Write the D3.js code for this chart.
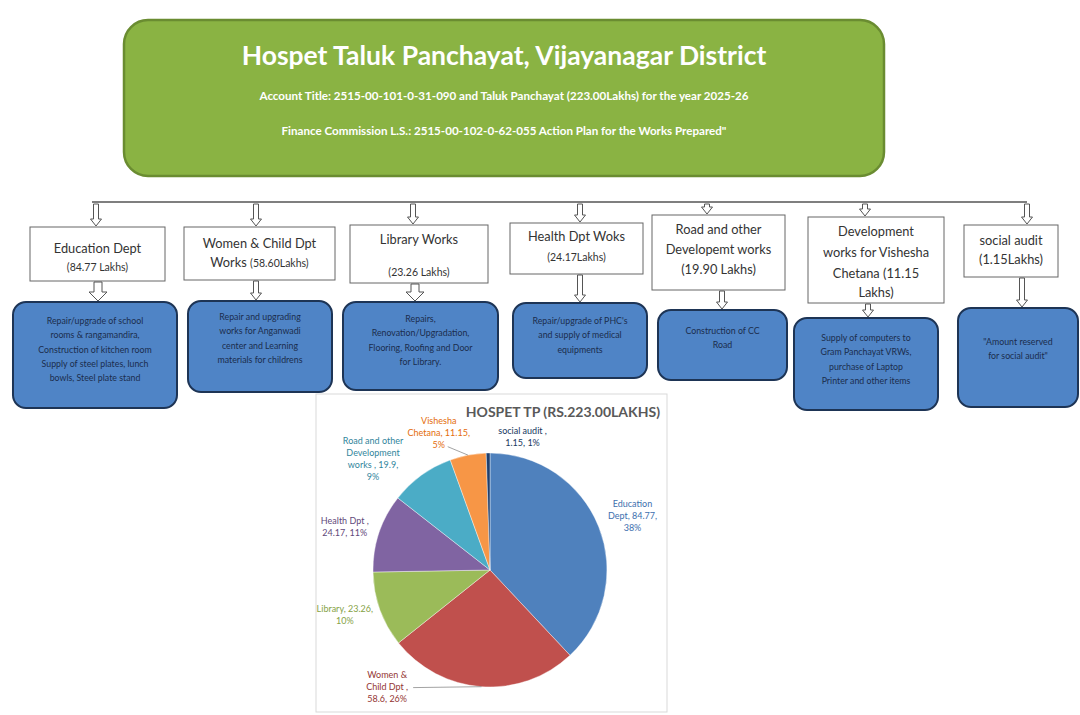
<!DOCTYPE html>
<html>
<head>
<meta charset="utf-8">
<title>Hospet Taluk Panchayat</title>
<script src="https://d3js.org/d3.v7.min.js"></script>
<style>
  body { margin: 0; background: #fff; }
  svg { display: block; font-family: Lato, "Open Sans", sans-serif; }
</style>
</head>
<body>
<div id="chart"></div>
<script>
// ---- data ----
var mainTitle = "Hospet Taluk Panchayat, Vijayanagar District";
var subTitles = [
  "Account Title: 2515-00-101-0-31-090 and Taluk Panchayat (223.00Lakhs) for the year 2025-26",
  "Finance Commission L.S.: 2515-00-102-0-62-055 Action Plan for the Works Prepared\""
];

// white department boxes, one array of lines each
var deptLines = [
  ["Education Dept", "(84.77 Lakhs)"],
  ["Women & Child Dpt", "Works (58.60Lakhs)"],
  ["Library Works", "", "(23.26 Lakhs)"],
  ["Health Dpt Woks", "(24.17Lakhs)"],
  ["Road and other", "Developemt works", "(19.90 Lakhs)"],
  ["Development", "works for Vishesha", "Chetana (11.15", "Lakhs)"],
  ["social audit", "(1.15Lakhs)"]
];

// blue work description boxes
var workLines = [
  ["Repair/upgrade of school", "rooms & rangamandira,", "Construction of kitchen room", "Supply of steel plates, lunch", "bowls, Steel plate stand"],
  ["Repair and upgrading", "works for Anganwadi", "center and Learning", "materials for childrens"],
  ["Repairs,", "Renovation/Upgradation,", "Flooring, Roofing and Door", "for Library."],
  ["Repair/upgrade of PHC's", "and supply of medical", "equipments"],
  ["Construction of  CC", "Road"],
  ["Supply of computers to", "Gram Panchayat VRWs,", "purchase of Laptop", "Printer and other items"],
  ["\"Amount reserved", "for social audit\""]
];

// pie chart
var pieTitle = "HOSPET TP (RS.223.00LAKHS)";
var sliceNames = ["Education Dept", "Women & Child Dpt", "Library", "Health Dpt", "Road and other Development works", "Vishesha Chetana", "social audit"];
var sliceValues = [84.77, 58.6, 23.26, 24.17, 19.9, 11.15, 1.15];
var sliceLabels = [
  ["Education", "Dept, 84.77,", "38%"],
  ["Women &", "Child Dpt ,", "58.6, 26%"],
  ["Library, 23.26,", "10%"],
  ["Health Dpt ,", "24.17, 11%"],
  ["Road and other", "Development", "works , 19.9,", "9%"],
  ["Vishesha", "Chetana, 11.15,", "5%"],
  ["social audit ,", "1.15, 1%"]
];

// ---- layout ----
var W = 1080, H = 715;
var busY = 202;
var topArrowX = [96, 256, 413, 580, 707, 865, 1027];
var deptBox = [[30, 227, 165, 281], [184, 227, 335, 280], [350, 225, 488, 283], [510, 223, 643, 274], [652, 215, 785, 290], [808, 217, 944, 303], [964, 225, 1058, 277]];
var deptLineY = [[250, 268], [245, 264], [241, 257, 273], [238, 258], [231, 251, 271], [233, 254, 275, 294], [242, 261]];
var workBox = [[13, 302, 177, 408], [188, 301, 332, 392], [343, 302, 498, 390], [513, 303, 647, 378], [658, 310, 787, 380], [794, 318, 938, 410], [958, 308, 1078, 407]];
var workTop = [322, 318, 320, 322, 332, 339, 343];
var midArrowX = [98, 256, 415, 580, 722, 868, 1022];
var midArrowWide = [true, false, true, false, false, false, false];
var pieCx = 490, pieCy = 570, pieR = 117, labelR = 150;
var labelNudge = [[3, 2], [-92, -32], [-4, -5], [-3, 5], [-29, 11], [-23, 11], [35, 18]];
var sliceColors = ["#4f81bd", "#c0504d", "#9bbb59", "#8064a2", "#4bacc6", "#f79646", "#1f3f6e"];
var labelColors = ["#3d6fae", "#943634", "#86a246", "#5f497a", "#31859c", "#e46c0a", "#17375e"];

var svg = d3.select("#chart").append("svg")
  .attr("width", W).attr("height", H);

// ---- header box ----
svg.append("rect")
  .attr("x", 124).attr("y", 20).attr("width", 760).attr("height", 156)
  .attr("rx", 24)
  .attr("fill", "#8ab343").attr("stroke", "#6a8c31").attr("stroke-width", 2.5);
svg.append("text")
  .attr("x", 504).attr("y", 58).attr("text-anchor", "middle").attr("dominant-baseline", "middle")
  .attr("fill", "#fff").attr("font-size", 26.5).attr("font-weight", "bold")
  .text(mainTitle);
svg.selectAll(".sub").data(subTitles).enter().append("text")
  .attr("class", "sub")
  .attr("x", 504).attr("y", function (d, i) { return 97 + i * 35; })
  .attr("text-anchor", "middle").attr("dominant-baseline", "middle")
  .attr("fill", "#fff").attr("font-size", 11.6).attr("font-weight", "bold")
  .text(function (d) { return d; });

// ---- connector bus ----
svg.append("line")
  .attr("x1", 92).attr("x2", topArrowX[topArrowX.length - 1])
  .attr("y1", busY).attr("y2", busY)
  .attr("stroke", "#555").attr("stroke-width", 1.3);

function hollowArrow(x, y0, y1, wide) {
  var sw = wide ? 4 : 2.5, hw = wide ? 9 : 5.5, hl = wide ? 9 : 7;
  hl = Math.min(hl, (y1 - y0) * 0.7);
  var p = d3.path();
  p.moveTo(x - sw, y0); p.lineTo(x + sw, y0); p.lineTo(x + sw, y1 - hl);
  p.lineTo(x + hw, y1 - hl); p.lineTo(x, y1); p.lineTo(x - hw, y1 - hl);
  p.lineTo(x - sw, y1 - hl); p.closePath();
  return p.toString();
}

var cols = svg.selectAll(".col").data(deptLines).enter().append("g").attr("class", "col");

// arrows from bus to dept boxes
cols.append("path")
  .attr("d", function (d, i) { return hollowArrow(topArrowX[i], busY + 2, deptBox[i][1] - 1, false); })
  .attr("fill", "#fff").attr("stroke", "#555").attr("stroke-width", 1);

// dept boxes
cols.append("rect")
  .attr("x", function (d, i) { return deptBox[i][0]; })
  .attr("y", function (d, i) { return deptBox[i][1]; })
  .attr("width", function (d, i) { return deptBox[i][2] - deptBox[i][0]; })
  .attr("height", function (d, i) { return deptBox[i][3] - deptBox[i][1]; })
  .attr("fill", "#fff").attr("stroke", "#666").attr("stroke-width", 1);

cols.each(function (lines, i) {
  var g = d3.select(this);
  var cx = (deptBox[i][0] + deptBox[i][2]) / 2;
  lines.forEach(function (t, j) {
    if (!t) return;
    var small = /^\(/.test(t) && i < 4;
    var txt = g.append("text")
      .attr("x", cx).attr("y", deptLineY[i][j])
      .attr("text-anchor", "middle").attr("dominant-baseline", "middle")
      .attr("fill", "#333").attr("font-size", small ? 10.5 : 12.8);
    if (t.indexOf("Works (") === 0) {
      txt.append("tspan").text("Works ");
      txt.append("tspan").attr("font-size", 10.5).text(t.slice(6));
    } else {
      txt.text(t);
    }
  });
});

// arrows dept -> work
cols.append("path")
  .attr("d", function (d, i) { return hollowArrow(midArrowX[i], deptBox[i][3] + 1, workBox[i][1] - 1, midArrowWide[i]); })
  .attr("fill", "#fff").attr("stroke", "#555").attr("stroke-width", 1);

// work boxes
cols.append("rect")
  .attr("x", function (d, i) { return workBox[i][0]; })
  .attr("y", function (d, i) { return workBox[i][1]; })
  .attr("width", function (d, i) { return workBox[i][2] - workBox[i][0]; })
  .attr("height", function (d, i) { return workBox[i][3] - workBox[i][1]; })
  .attr("rx", 13)
  .attr("fill", "#4f84c6").attr("stroke", "#1d3455").attr("stroke-width", 2);

cols.each(function (d, i) {
  var g = d3.select(this);
  var cx = (workBox[i][0] + workBox[i][2]) / 2;
  workLines[i].forEach(function (t, j) {
    g.append("text")
      .attr("x", cx).attr("y", workTop[i] + j * 14.2)
      .attr("text-anchor", "middle").attr("dominant-baseline", "middle")
      .attr("fill", "#1b2d4d").attr("font-size", 8.8)
      .text(t);
  });
});

// ---- pie chart panel ----
svg.append("rect")
  .attr("x", 316).attr("y", 394).attr("width", 351).attr("height", 318)
  .attr("fill", "#fff").attr("stroke", "#d9d9d9").attr("stroke-width", 1);
svg.append("text")
  .attr("x", 660).attr("y", 413).attr("text-anchor", "end").attr("dominant-baseline", "middle")
  .attr("fill", "#595959").attr("font-size", 14).attr("font-weight", "bold")
  .text(pieTitle);

var pie = d3.pie().sort(null).value(function (d) { return d; });
var arcs = pie(sliceValues);
var arc = d3.arc().innerRadius(0).outerRadius(pieR);
var edgeArc = d3.arc().innerRadius(pieR).outerRadius(pieR);
var labelArc = d3.arc().innerRadius(labelR).outerRadius(labelR);

var pg = svg.append("g").attr("transform", "translate(" + pieCx + "," + pieCy + ")");
pg.selectAll(".slice").data(arcs).enter().append("path")
  .attr("class", "slice")
  .attr("d", arc)
  .attr("fill", function (d, i) { return sliceColors[i]; })
  .attr("stroke", "#fff").attr("stroke-width", 0.4);

// leader lines for the two labels pulled away from their slices
var leaders = [[1, 26, 0], [5, 9, 13]];
leaders.forEach(function (l) {
  var i = l[0], c = labelArc.centroid(arcs[i]), e = edgeArc.centroid(arcs[i]);
  pg.append("line")
    .attr("x1", c[0] + labelNudge[i][0] + l[1]).attr("y1", c[1] + labelNudge[i][1] + l[2])
    .attr("x2", e[0]).attr("y2", e[1])
    .attr("stroke", "#8c8c8c").attr("stroke-width", 0.8);
});

pg.selectAll(".lbl").data(arcs).enter().append("text")
  .attr("class", "lbl")
  .attr("text-anchor", "middle")
  .attr("fill", function (d, i) { return labelColors[i]; })
  .attr("font-size", 9)
  .each(function (d, i) {
    var c = labelArc.centroid(d);
    var x = c[0] + labelNudge[i][0], y = c[1] + labelNudge[i][1];
    var lines = sliceLabels[i];
    var t = d3.select(this);
    lines.forEach(function (s, j) {
      t.append("tspan")
        .attr("x", x)
        .attr("y", y + (j - (lines.length - 1) / 2) * 12.2)
        .attr("dominant-baseline", "middle")
        .text(s);
    });
  });
</script>
</body>
</html>
